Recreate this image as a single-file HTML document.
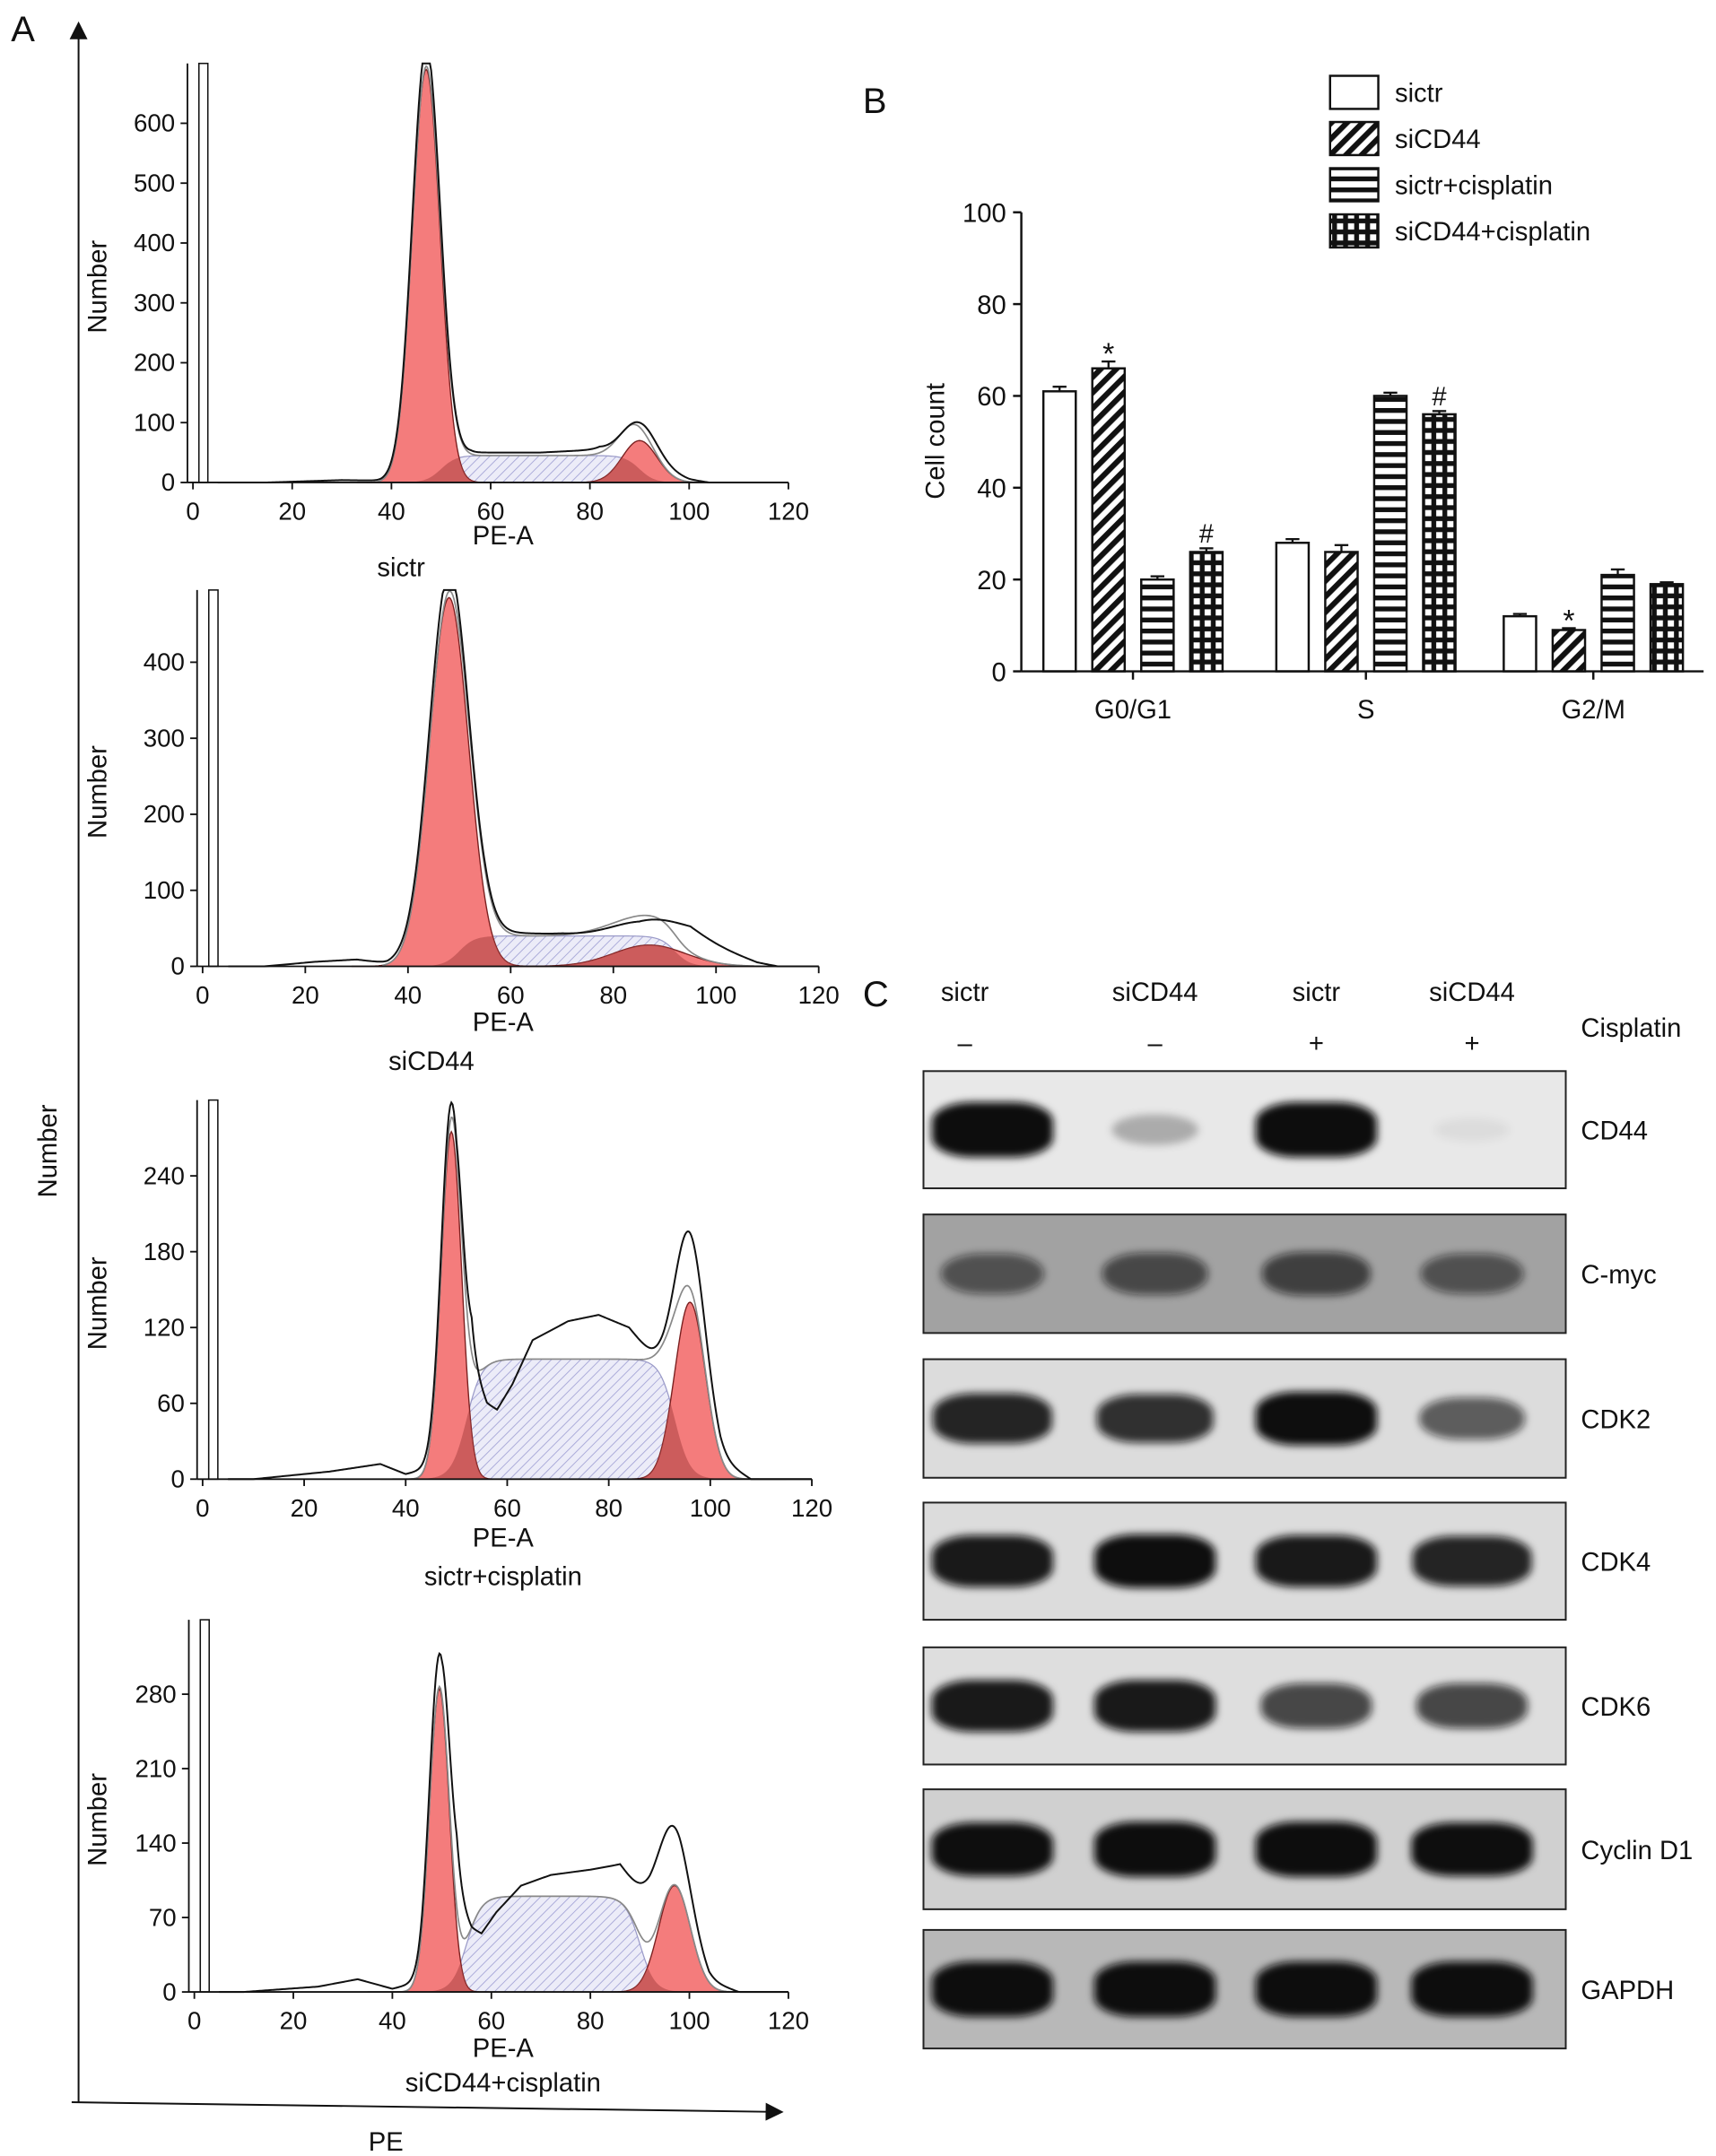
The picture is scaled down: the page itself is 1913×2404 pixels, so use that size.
<!DOCTYPE html>
<html><head><meta charset="utf-8"><style>
html,body{margin:0;padding:0;background:#fff}
svg{display:block}
text{font-family:"Liberation Sans",sans-serif;fill:#111}
</style></head><body>
<svg id="fig" width="1913" height="2404" viewBox="0 0 1245 1564" preserveAspectRatio="none" xmlns="http://www.w3.org/2000/svg">
<defs>
<pattern id="hatchS" patternUnits="userSpaceOnUse" width="5" height="5" patternTransform="rotate(45)">
<rect width="5" height="5" fill="#ececf8"/><line x1="0" y1="0" x2="0" y2="5" stroke="#a8a8d8" stroke-width="1.2"/></pattern>
<pattern id="pDiag" patternUnits="userSpaceOnUse" width="8" height="8" patternTransform="rotate(45)">
<rect width="8" height="8" fill="#fff"/><rect width="4" height="8" fill="#111"/></pattern>
<pattern id="pHor" patternUnits="userSpaceOnUse" width="8" height="8">
<rect width="8" height="8" fill="#fff"/><rect width="8" height="3.5" fill="#111"/></pattern>
<pattern id="pGrid" patternUnits="userSpaceOnUse" width="8" height="8">
<rect width="8" height="8" fill="#111"/><rect x="2" y="2" width="4.5" height="4.5" fill="#fff"/></pattern>
<filter id="blur" x="-30%" y="-80%" width="160%" height="260%"><feGaussianBlur stdDeviation="3"/></filter>
<marker id="arr" markerWidth="10" markerHeight="10" refX="5" refY="5" orient="auto"><path d="M0,0 L10,5 L0,10 z" fill="#111"/></marker>
</defs>

<text x="8" y="30" font-size="26">A</text>
<line x1="57" y1="1525" x2="57" y2="22" stroke="#111" stroke-width="1.3" marker-end="url(#arr)"/>
<line x1="52" y1="1525" x2="562" y2="1532" stroke="#111" stroke-width="1.3" marker-end="url(#arr)"/>
<text x="0" y="0" font-size="19" text-anchor="middle" transform="translate(41,835) rotate(-90)">Number</text>
<text x="280" y="1560" font-size="19" text-anchor="middle">PE</text>
<g id="hists"></g>

<text x="626" y="82" font-size="26">B</text>
<g id="bars"></g>

<text x="626" y="730" font-size="26">C</text>
<g id="blots"></g>
</svg>
<script>
const NS='http://www.w3.org/2000/svg';
function mk(tag,attrs,parent,txt){const e=document.createElementNS(NS,tag);for(const k in attrs)e.setAttribute(k,attrs[k]);if(txt!==undefined)e.textContent=txt;parent.appendChild(e);return e;}

/* ---------- Panel A: histogram data ---------- */
const histLabels=['sictr','siCD44','sictr+cisplatin','siCD44+cisplatin'];
const histYTicks=[[0,100,200,300,400,500,600],[0,100,200,300,400],[0,60,120,180,240],[0,70,140,210,280]];
const histYMax=[700,495,300,350];
const histG1=[[47,2.8,690],[48,3.8,485],[49,2.0,275],[49.5,2.0,285]];
const histG2=[[90,3.5,70],[87,7,28],[96,3,140],[97,3.2,100]];
const histS=[[50,90,45],[50,92,40],[52,93,95],[55,90,90]];
const histTotalKnots=[
 [[15,0],[30,4],[38,3],[42,8],[50,35],[56,50],[70,50],[82,55],[90,30],[100,5],[104,0],[120,0]],
 [[12,0],[22,6],[30,9],[36,4],[42,10],[48,25],[55,45],[70,42],[85,32],[95,38],[102,20],[108,5],[112,0],[120,0]],
 [[10,0],[25,6],[35,12],[40,4],[46,10],[50,20],[53,90],[56,60],[58,55],[61,75],[65,110],[72,125],[78,130],[84,120],[90,90],[96,55],[102,15],[108,0],[120,0]],
 [[10,0],[25,5],[33,12],[40,3],[46,10],[50,30],[53,85],[56,60],[58,55],[61,75],[66,100],[72,110],[80,115],[86,120],[92,80],[98,50],[104,10],[110,0],[120,0]]
];
const histXTicks=[0,20,40,60,80,100,120];
const histBox=[{x0:140,x1:572,base:350,top:46,ax:136,ty:395,ly:418},{x0:147,x1:594,base:701,top:428,ax:143,ty:748,ly:776},
 {x0:147,x1:589,base:1073,top:798,ax:143,ty:1122,ly:1150},{x0:141,x1:572,base:1445,top:1175,ax:137,ty:1492,ly:1517}];

function gauss(x,p){return p[2]*Math.exp(-((x-p[0])**2)/(2*p[1]*p[1]));}
function sig(z){return 1/(1+Math.exp(-z));}
function sShape(x,p){return p[2]*sig((x-p[0])/1.5)*sig((p[1]-x)/1.5);}
function interp(x,k){if(x<=k[0][0])return k[0][1];for(let i=1;i<k.length;i++){if(x<=k[i][0]){const t=(x-k[i-1][0])/(k[i][0]-k[i-1][0]);return k[i-1][1]+t*(k[i][1]-k[i-1][1]);}}return k[k.length-1][1];}

const hg=document.getElementById('hists');
histLabels.forEach((lab,i)=>{
  const b=histBox[i];
  const g=mk('g',{},hg);
  
  
  const X=v=>b.x0+(b.x1-b.x0)*v/120;
  const Y=v=>b.base-(b.base-b.top)*Math.min(v,histYMax[i])/histYMax[i];
  const area=(f,a,c)=>{let d='M'+X(a)+','+Y(0);for(let x=a;x<=c;x+=0.25)d+=' L'+X(x).toFixed(2)+','+Y(f(x)).toFixed(2);d+=' L'+X(c)+','+Y(0)+' Z';return d;};
  const line=(f,a,c)=>{let d='';for(let x=a;x<=c;x+=0.25)d+=(d?' L':'M')+X(x).toFixed(2)+','+Y(f(x)).toFixed(2);return d;};
  const sp=mk('path',{d:area(x=>sShape(x,histS[i]),histS[i][0]-8,histS[i][1]+8),fill:'url(#hatchS)',stroke:'#9a9ac8','stroke-width':0.8},g);
  
  
  const g1=mk('path',{d:area(x=>gauss(x,histG1[i]),histG1[i][0]-5*histG1[i][1],histG1[i][0]+5*histG1[i][1]),fill:'#f47c7c',stroke:'#7a2020','stroke-width':0.9},g);
  
  
  const g2=mk('path',{d:area(x=>gauss(x,histG2[i]),histG2[i][0]-4*histG2[i][1],histG2[i][0]+4*histG2[i][1]),fill:'#f47c7c',stroke:'#7a2020','stroke-width':0.9},g);
  
  
  const ov=mk('path',{d:area(x=>Math.min(sShape(x,histS[i]),Math.max(gauss(x,histG1[i]),gauss(x,histG2[i]))),histS[i][0]-8,histS[i][1]+8),fill:'#b04848','fill-opacity':0.6},g);
  
  
  const fit=x=>gauss(x,histG1[i])+gauss(x,histG2[i])+sShape(x,histS[i]);
  const fl=mk('path',{d:line(fit,35,115),fill:'none',stroke:'#888','stroke-width':1.1},g);
  
  
  const tot=x=>gauss(x,histG1[i])*1.02+gauss(x,histG2[i])+interp(x,histTotalKnots[i]);
  const tl=mk('path',{d:line(tot,5,120),fill:'none',stroke:'#111','stroke-width':1.3},g);
  
  
  const spk=mk('rect',{x:X(1.2),y:b.top,width:X(3)-X(1.2),height:b.base-b.top,fill:'#fff',stroke:'#111','stroke-width':1},g);
  
  
  mk('line',{x1:b.ax,y1:b.top,x2:b.ax,y2:b.base,stroke:'#111','stroke-width':1.2},g);
  mk('line',{x1:b.ax,y1:b.base,x2:b.x1,y2:b.base,stroke:'#111','stroke-width':1.2},g);
  histYTicks[i].forEach(v=>{
    mk('line',{x1:b.ax-5,y1:Y(v),x2:b.ax,y2:Y(v),stroke:'#111','stroke-width':1.2},g);
    const t=mk('text',{x:b.ax-9,y:Y(v)+6,'font-size':18,'text-anchor':'end'},g,String(v));
    
    
  });
  histXTicks.forEach(v=>{
    mk('line',{x1:X(v),y1:b.base,x2:X(v),y2:b.base+5,stroke:'#111','stroke-width':1.2},g);
    const t=mk('text',{x:X(v),y:b.base+27,'font-size':18,'text-anchor':'middle'},g,String(v));
    
    
  });
  const yt=mk('text',{'font-size':19,'text-anchor':'middle',transform:`translate(77,${(b.top+b.base)/2+10}) rotate(-90)`},g,'Number');
  
  
  const xt=mk('text',{x:365,y:b.ty,'font-size':19,'text-anchor':'middle'},g,'PE-A');
  
  
  const lx=i===0?291:(i===1?313:365);
  const lt=mk('text',{x:lx,y:b.ly,'font-size':19,'text-anchor':'middle'},g,lab);
  
  
});

/* ---------- Panel B: bar chart ---------- */
const barCategories=['G0/G1','S','G2/M'];
const barSeries=['sictr','siCD44','sictr+cisplatin','siCD44+cisplatin'];
const barValues=[[61,66,20,26],[28,26,60,56],[12,9,21,19]];
const barErrors=[[1,1.5,0.7,0.8],[0.8,1.5,0.7,0.7],[0.5,0.4,1.2,0.4]];
const barMarks=[['','*','','#'],['','','','#'],['','*','','']];
const barYTicks=[0,20,40,60,80,100];
const bg=document.getElementById('bars');
const by0=487,by1=154,bx0=741,bx1=1236;
const BY=v=>by0-(by0-by1)*v/100;
const fills=['#fff','url(#pDiag)','url(#pHor)','url(#pGrid)'];
const groupStart=[757,926,1091],barStep=35.5,barW=23.5;
barCategories.forEach((c,ci)=>{
  barValues[ci].forEach((v,si)=>{
    const x=groupStart[ci]+si*barStep;
    const r=mk('rect',{x:x,y:BY(v),width:barW,height:by0-BY(v),fill:fills[si],stroke:'#111','stroke-width':1.6},bg);
    
    
    const e=barErrors[ci][si];
    mk('line',{x1:x+barW/2,y1:BY(v+e),x2:x+barW/2,y2:BY(v),stroke:'#111','stroke-width':1.5},bg);
    mk('line',{x1:x+barW/2-5,y1:BY(v+e),x2:x+barW/2+5,y2:BY(v+e),stroke:'#111','stroke-width':1.5},bg);
    if(barMarks[ci][si]){
      const t=mk('text',{x:x+barW/2,y:BY(v+e)-4+(barMarks[ci][si]==='*'?6:0),'font-size':barMarks[ci][si]==='*'?22:19,'text-anchor':'middle','font-family':'Liberation Serif'},bg,barMarks[ci][si]);
      
      
    }
  });
  const t=mk('text',{x:groupStart[ci]+barStep*1.5+barW/2,y:by0+34,'font-size':19,'text-anchor':'middle'},bg,c);
  
  
});
mk('line',{x1:bx0,y1:by1,x2:bx0,y2:by0,stroke:'#111','stroke-width':1.6},bg);
mk('line',{x1:bx0,y1:by0,x2:bx1,y2:by0,stroke:'#111','stroke-width':1.6},bg);
[0,1,2].forEach(ci=>{const cx=groupStart[ci]+barStep*1.5+barW/2;mk('line',{x1:cx,y1:by0,x2:cx,y2:by0+6,stroke:'#111','stroke-width':1.6},bg);});
barYTicks.forEach(v=>{
  mk('line',{x1:bx0-6,y1:BY(v),x2:bx0,y2:BY(v),stroke:'#111','stroke-width':1.6},bg);
  const t=mk('text',{x:bx0-11,y:BY(v)+7,'font-size':19,'text-anchor':'end'},bg,String(v));
  
  
});
const byt=mk('text',{'font-size':19,'text-anchor':'middle',transform:'translate(685,320) rotate(-90)'},bg,'Cell count');


barSeries.forEach((s,si)=>{
  const y=55+si*33.5;
  const r=mk('rect',{x:965,y:y,width:35,height:24,fill:fills[si],stroke:'#111','stroke-width':1.6},bg);
  
  
  const t=mk('text',{x:1012,y:y+19,'font-size':19},bg,s);
  
  
});

/* ---------- Panel C: western blots ---------- */
const laneNames=['sictr','siCD44','sictr','siCD44'];
const laneCis=['–','–','+','+'];
const proteins=['CD44','C-myc','CDK2','CDK4','CDK6','Cyclin D1','GAPDH'];
const bandIntensity=[[1.0,0.25,1.0,0.05],[0.55,0.6,0.65,0.55],[0.85,0.8,0.95,0.6],[0.9,0.95,0.9,0.85],[0.9,0.9,0.7,0.7],[0.95,1.0,1.0,0.95],[1.0,1.0,1.0,1.0]];
const blotBg=['#e8e8e8','#a2a2a2','#dcdcdc','#dcdcdc','#dedede','#d0d0d0','#b8b8b8'];
const blotTop=[777,881,986,1090,1195,1298,1400];
const blotH=[85,86,86,85,85,87,86];
const laneX=[720,838,955,1068];
const cg=document.getElementById('blots');
laneNames.forEach((n,i)=>{
  const t=mk('text',{x:laneX[i]-(i===0?20:0),y:726,'font-size':19,'text-anchor':'middle'},cg,n);
  
  
  const s=mk('text',{x:laneX[i]-(i===0?20:0),y:763,'font-size':19,'text-anchor':'middle'},cg,laneCis[i]);
  
  
});
const cisT=mk('text',{x:1147,y:752,'font-size':19},cg,'Cisplatin');


proteins.forEach((p,pi)=>{
  const g=mk('g',{},cg);
  
  
  const y=blotTop[pi],h=blotH[pi];
  mk('rect',{x:670,y:y,width:466,height:h,fill:blotBg[pi]},g);
  const clip=mk('clipPath',{id:'cl'+pi},g);mk('rect',{x:670,y:y,width:466,height:h},clip);
  const bgG=mk('g',{'clip-path':'url(#cl'+pi+')'},g);
  bandIntensity[pi].forEach((v,li)=>{
    if(v<0.03)return;
    const e=mk('rect',{x:laneX[li]-44*Math.min(1,0.6+v*0.45),y:y+h/2-(8+12*v),width:88*Math.min(1,0.6+v*0.45),height:2*(8+12*v),rx:30,ry:14,fill:'#0c0c0c','fill-opacity':Math.min(1,v*1.05),filter:'url(#blur)'},bgG);
    
    
  });
  mk('rect',{x:670,y:y,width:466,height:h,fill:'none',stroke:'#222','stroke-width':1.3},g);
  const t=mk('text',{x:1147,y:y+h/2+7,'font-size':19},g,p);
  
  
});
</script>
</body></html>
